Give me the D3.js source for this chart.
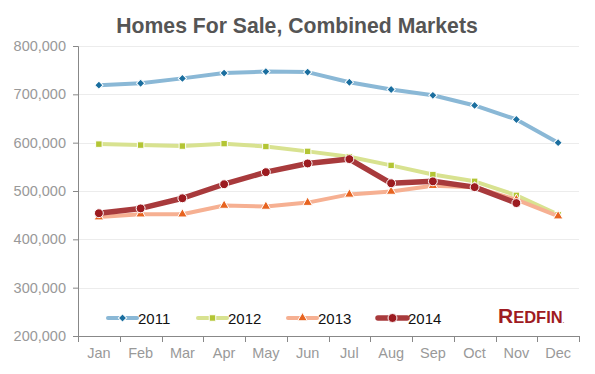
<!DOCTYPE html>
<html>
<head>
<meta charset="utf-8">
<script src="https://cdn.jsdelivr.net/npm/d3@7"></script>
<style>
  body { margin: 0; background: #fff; }
  svg { display: block; font-family: "Liberation Sans", Arial, sans-serif; }
</style>
</head>
<body>
<svg id="chart" width="595" height="374"></svg>
<script>
// data
var months = ['Jan', 'Feb', 'Mar', 'Apr', 'May', 'Jun', 'Jul', 'Aug', 'Sep', 'Oct', 'Nov', 'Dec'];
var yTicks = [200000, 300000, 400000, 500000, 600000, 700000, 800000];
var years = ['2011', '2012', '2013', '2014'];
var homes2011 = [719000, 723000, 733000, 744000, 747000, 746000, 725000, 710000, 698000, 677000, 648000, 600000];
var homes2012 = [597000, 595000, 593000, 598000, 592000, 582000, 571000, 553000, 534000, 520000, 491000, 451000];
var homes2013 = [446000, 452000, 452000, 470000, 468000, 476000, 493000, 499000, 511000, 508000, 482000, 448000];
var homes2014 = [454000, 464000, 485000, 514000, 539000, 557000, 566000, 516000, 520000, 508000, 475000];

var series = [
  { name: years[0], values: homes2011, line: '#8ab8d6', mark: '#1a6e9f', shape: d3.symbolSquare, rot: 45, size: 34, width: 4 },
  { name: years[1], values: homes2012, line: '#d8e290', mark: '#b3c534', shape: d3.symbolSquare, rot: 0, size: 42, width: 4 },
  { name: years[2], values: homes2013, line: '#f6b092', mark: '#e7631f', shape: d3.symbolTriangle, rot: 0, size: 40, width: 4 },
  { name: years[3], values: homes2014, line: '#a83a3c', mark: '#9c1b20', shape: d3.symbolCircle, rot: 0, size: 62, width: 5.5 }
];

var svg = d3.select('#chart');
var margin = { top: 46, right: 16, bottom: 38, left: 78 };
var width = 595 - margin.left - margin.right;
var height = 374 - margin.top - margin.bottom;

var x = d3.scaleBand().domain(months).range([0, width]);
var y = d3.scaleLinear().domain([200000, 800000]).range([height, 0]);
var fmt = d3.format(',');

// title
svg.append('text')
  .attr('x', 297)
  .attr('y', 33)
  .attr('text-anchor', 'middle')
  .attr('font-size', '21.2px')
  .attr('font-weight', 'bold')
  .attr('fill', '#555')
  .text('Homes For Sale, Combined Markets');

var g = svg.append('g').attr('transform', 'translate(' + margin.left + ',' + margin.top + ')');

// grid lines
g.append('g')
  .selectAll('line')
  .data(yTicks)
  .join('line')
  .attr('x1', 0)
  .attr('x2', width)
  .attr('y1', d => Math.round(y(d)) + 0.5)
  .attr('y2', d => Math.round(y(d)) + 0.5)
  .attr('stroke', '#ececec');

// y axis
var yAxis = g.append('g')
  .call(d3.axisLeft(y).tickValues(yTicks).tickFormat(fmt).tickSize(5).tickPadding(7));
yAxis.select('.domain').attr('stroke', '#888');
yAxis.selectAll('.tick line').attr('stroke', '#888');
yAxis.selectAll('.tick text')
  .attr('fill', '#999')
  .attr('font-size', '14.5px')
  .attr('font-family', '"Liberation Sans", Arial, sans-serif');

// x axis
var xAxis = g.append('g')
  .attr('transform', 'translate(0,' + height + ')')
  .call(d3.axisBottom(x).tickSize(0).tickPadding(12));
xAxis.select('.domain').attr('stroke', '#888').attr('d', 'M0,0.5H' + width);
xAxis.selectAll('.tick text')
  .attr('fill', '#999')
  .attr('font-size', '14.5px')
  .attr('font-family', '"Liberation Sans", Arial, sans-serif');
xAxis.append('g')
  .selectAll('line')
  .data(d3.range(months.length + 1))
  .join('line')
  .attr('x1', d => Math.round(d * x.bandwidth()) + 0.5)
  .attr('x2', d => Math.round(d * x.bandwidth()) + 0.5)
  .attr('y1', 0)
  .attr('y2', 6)
  .attr('stroke', '#888');

var cx = i => x(months[i]) + x.bandwidth() / 2;
var line = d3.line().x((d, i) => cx(i)).y(d => y(d));

series.forEach(function (s) {
  var sg = g.append('g');
  sg.append('path')
    .datum(s.values)
    .attr('d', line)
    .attr('fill', 'none')
    .attr('stroke', s.line)
    .attr('stroke-width', s.width)
    .attr('stroke-linejoin', 'round');
  sg.selectAll('path.mark')
    .data(s.values)
    .join('path')
    .attr('class', 'mark')
    .attr('transform', (d, i) => 'translate(' + cx(i) + ',' + y(d) + ') rotate(' + s.rot + ')')
    .attr('d', d3.symbol().type(s.shape).size(s.size))
    .attr('fill', s.mark)
    .attr('stroke', '#fff')
    .attr('stroke-width', 1);
});

// legend
var legend = svg.append('g').attr('transform', 'translate(108,318)');
var item = legend.selectAll('g')
  .data(series)
  .join('g')
  .attr('transform', (d, i) => 'translate(' + i * 90 + ',0)');
item.append('line')
  .attr('x1', 0).attr('x2', 29)
  .attr('stroke', d => d.line)
  .attr('stroke-width', d => d.width)
  .attr('stroke-linecap', 'round');
item.append('path')
  .attr('transform', d => 'translate(14.5,0) rotate(' + d.rot + ')')
  .attr('d', d => d3.symbol().type(d.shape).size(d.size)())
  .attr('fill', d => d.mark)
  .attr('stroke', '#fff')
  .attr('stroke-width', 1);
item.append('text')
  .attr('x', 30)
  .attr('y', 5.5)
  .attr('font-size', '15px')
  .attr('fill', '#111')
  .text(d => d.name);

// Redfin logo
var logo = svg.append('text')
  .attr('x', 498)
  .attr('y', 323)
  .attr('font-weight', 'bold')
  .attr('fill', '#9e1b22')
  .attr('font-family', '"Liberation Sans", Arial, sans-serif');
logo.append('tspan').attr('font-size', '21px').text('R');
logo.append('tspan').attr('font-size', '16.5px').text('EDFIN');
logo.append('tspan').attr('font-size', '5px').text('.');
</script>
</body>
</html>
